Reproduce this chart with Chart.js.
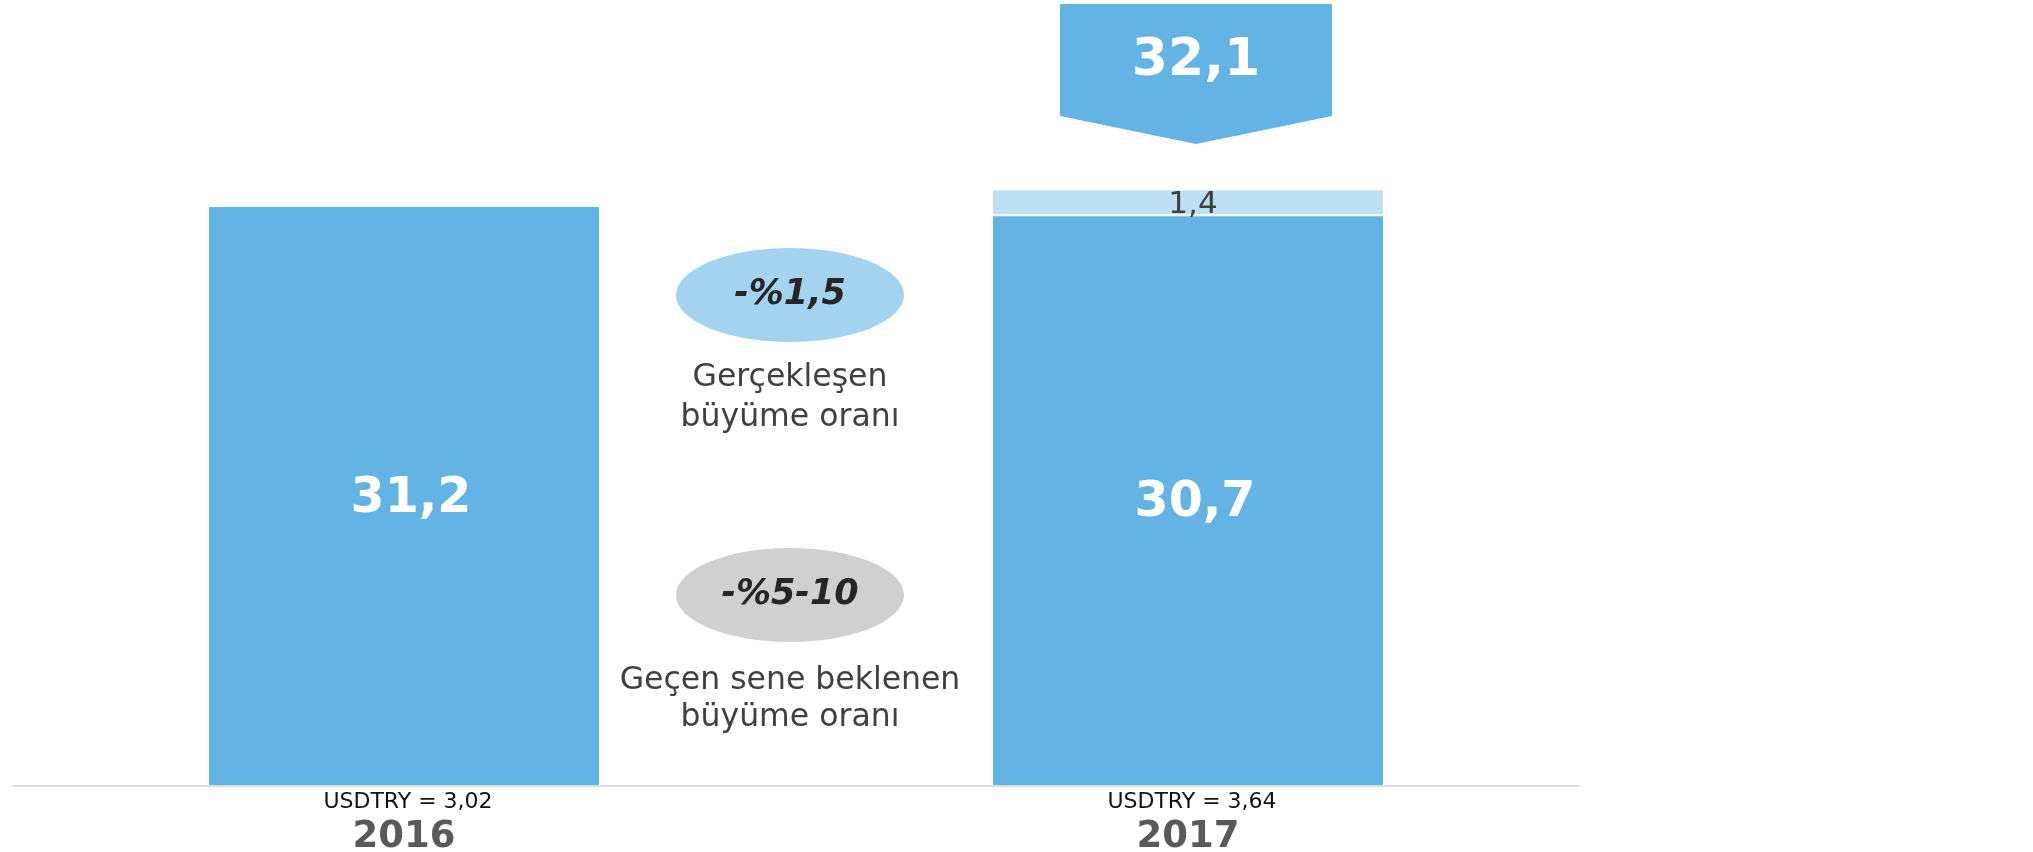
<!DOCTYPE html>
<html>
<head>
<meta charset="utf-8">
<script src="https://cdn.jsdelivr.net/npm/chart.js@4"></script>
<style>
  html, body { margin: 0; padding: 0; background: #fff; }
  #wrap { position: relative; width: 2033px; height: 852px; }
</style>
</head>
<body>
<div id="wrap"><canvas id="chart" width="2033" height="852"></canvas></div>
<script>
// Donnees du graphique
const years = ['2016', '2017'];
const baseValues = [31.2, 30.7];
const extraValues = [null, 1.4];
const fxLabels = ['USDTRY = 3,02', 'USDTRY = 3,64'];
const growthActual = '-%1,5';
const growthActualText = ['Gerçekleşen', 'büyüme oranı'];
const growthExpected = '-%5-10';
const growthExpectedText = ['Geçen sene beklenen', 'büyüme oranı'];

const FONT = '"DejaVu Sans", Verdana, sans-serif';
const BLUE = '#63b4e4';
const LIGHT = '#bee0f4';

function fmt(v) {
    return v.toFixed(1).replace('.', ',');
}

// Textes, bulles et fleche dessines autour des barres
const annotations = {
    id: 'annotations',
    afterDatasetsDraw(chart) {
        const ctx = chart.ctx;
        const area = chart.chartArea;
        const x = chart.scales.x;
        const base = chart.getDatasetMeta(0).data;
        const extra = chart.getDatasetMeta(1).data;

        ctx.save();
        ctx.textAlign = 'center';
        ctx.textBaseline = 'middle';

        // ligne de base
        ctx.strokeStyle = '#dedede';
        ctx.lineWidth = 2;
        ctx.beginPath();
        ctx.moveTo(area.left, area.bottom + 1);
        ctx.lineTo(area.right, area.bottom + 1);
        ctx.stroke();

        // valeurs dans les barres
        ctx.fillStyle = '#fff';
        ctx.font = 'bold 49px ' + FONT;
        base.forEach((bar, i) => {
            ctx.fillText(fmt(baseValues[i]), bar.x + 7, (bar.y + bar.base) / 2 + 3);
        });

        extra.forEach((bar, i) => {
            if (extraValues[i] == null) return;
            ctx.fillStyle = '#404040';
            ctx.font = '31px ' + FONT;
            ctx.fillText(fmt(extraValues[i]), bar.x + 5, (bar.y + bar.base) / 2 + 2);

            // fleche avec le total
            const total = baseValues[i] + extraValues[i];
            const cx = bar.x + 8;
            const w = 272;
            ctx.fillStyle = BLUE;
            ctx.beginPath();
            ctx.moveTo(cx - w / 2, 4);
            ctx.lineTo(cx + w / 2, 4);
            ctx.lineTo(cx + w / 2, 116);
            ctx.lineTo(cx, 144);
            ctx.lineTo(cx - w / 2, 116);
            ctx.closePath();
            ctx.fill();
            ctx.fillStyle = '#fff';
            ctx.font = 'bold 52px ' + FONT;
            ctx.fillText(fmt(total), cx, 61);
        });

        // etiquettes sous l'axe
        years.forEach((y, i) => {
            const px = x.getPixelForValue(i);
            ctx.fillStyle = '#111';
            ctx.font = '22px ' + FONT;
            ctx.fillText(fxLabels[i], px + 4, 802);
            ctx.fillStyle = '#595959';
            ctx.font = 'bold 37px ' + FONT;
            ctx.fillText(y, px, 837);
        });

        // bulles de croissance au milieu
        const mid = (x.getPixelForValue(0) + x.getPixelForValue(1)) / 2 - 6;
        function bubble(cy, color, label, lines, ty, gap) {
            ctx.fillStyle = color;
            ctx.beginPath();
            ctx.ellipse(mid, cy, 114, 47, 0, 0, Math.PI * 2);
            ctx.fill();
            ctx.fillStyle = '#262626';
            ctx.font = 'italic bold 35px ' + FONT;
            ctx.fillText(label, mid, cy);
            ctx.fillStyle = '#404040';
            ctx.font = '31.5px ' + FONT;
            lines.forEach((t, k) => ctx.fillText(t, mid, ty + k * gap));
        }
        bubble(295, '#a3d3ee', growthActual, growthActualText, 378, 40);
        bubble(595, '#d0d0d0', growthExpected, growthExpectedText, 681, 37);

        ctx.restore();
    }
};

new Chart(document.getElementById('chart'), {
    type: 'bar',
    data: {
        labels: years,
        datasets: [{
            data: baseValues,
            backgroundColor: BLUE,
            borderWidth: 0
        }, {
            data: extraValues,
            backgroundColor: LIGHT,
            borderColor: '#fff',
            borderWidth: { bottom: 2, top: 0, left: 0, right: 0 },
            borderSkipped: false
        }]
    },
    options: {
        responsive: false,
        animation: false,
        events: [],
        layout: { padding: { left: 12, right: 453, top: 0, bottom: 67 } },
        datasets: { bar: { categoryPercentage: 1, barPercentage: 0.4975 } },
        plugins: { legend: { display: false }, tooltip: { enabled: false } },
        scales: {
            x: { stacked: true, display: false },
            y: { stacked: true, display: false, min: 0, max: 42.37 }
        }
    },
    plugins: [annotations]
});
</script>
</body>
</html>
